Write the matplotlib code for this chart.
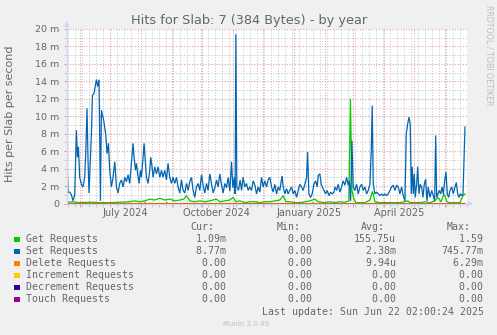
import matplotlib
matplotlib.use('Agg')
import matplotlib.pyplot as plt
import matplotlib.dates as mdates
import matplotlib.transforms as mtransforms
from matplotlib.patches import Rectangle, Polygon
from matplotlib.lines import Line2D
from matplotlib.ticker import MultipleLocator, FuncFormatter, NullFormatter
from datetime import datetime, timedelta

# ---------------- data (values in milli-hits per second, i.e. "m") ----------------
start_date = datetime(2024, 5, 19)
span_days = 400

set_days = [0, 1.3, 3, 4.7, 6.3, 8, 9.7, 10.7, 11.7, 13, 14.7, 16.3, 18, 19, 20.3, 21.3, 22.3,
            24.7, 25.7, 27.3, 29.7, 31, 32.3, 33.7, 34.7, 37, 39, 40.3, 41.7, 43, 44.7, 46.3,
            48, 49.7, 51.3, 53, 54.7, 56.3, 58, 59.7, 61.3, 63, 64.7, 66.3, 67.3, 68.7, 69.7,
            71, 72.3, 73.7, 74.7, 76.3, 77.3, 78.7, 79.7, 81.3, 83, 84, 85.3, 86.3, 88, 89.7,
            91.3, 93, 94.7, 96.3, 98, 99.7, 101.3, 103, 104.7, 106.3, 108, 109.7, 111.3, 113,
            114.7, 116.3, 118, 119.7, 121.3, 123, 124.7, 126.3, 128, 129.7, 131.3, 133, 134.7,
            136.3, 138, 139.7, 141.3, 143, 144.7, 146.3, 148, 149.7, 151.3, 153, 154.7, 156.3,
            158, 159.7, 161.3, 163, 164.7, 166, 167.5, 168.3, 169, 170, 171.7, 173.3, 174.7,
            176.3, 178, 179.7, 181.3, 183, 184.7, 186.3, 188, 189.7, 191.3, 193, 194.7, 196.3,
            198, 199.7, 201.3, 203, 204.7, 206.3, 208, 209.7, 211.3, 213, 214.7, 215.3, 216.3,
            218, 219.7, 221.3, 223, 224.7, 226.3, 228, 229.7, 231.3, 233, 234.7, 236.3, 238,
            239.7, 240.7, 242, 243.7, 245.3, 247, 248.7, 250.3, 251.3, 253, 254.3, 257, 258.7,
            260.3, 262, 263.7, 265.3, 267, 268, 269.7, 271.3, 273, 274.7, 276.3, 278, 279.7,
            281.3, 282.3, 283.7, 285, 286.3, 288, 289.7, 291.3, 293, 294.7, 296.3, 298, 299.7,
            301.3, 303, 304.3, 305.3, 306.3, 308, 309.7, 311.3, 313, 314.7, 316.3, 318, 319.7,
            321.3, 323, 324.7, 326.3, 328, 329.7, 331.3, 333, 334.7, 336.3, 338, 339.3, 340.7,
            342, 343.3, 344.3, 345.3, 346.3, 347.3, 348.3, 349.7, 350.7, 352, 353.3, 354.7,
            356, 357.3, 358.7, 360, 361.3, 363, 364.7, 366.3, 367.7, 368.7, 369.7, 371, 372.3,
            373.7, 375, 376.3, 377.7, 379, 380.3, 381.7, 383, 384.7, 386.3, 388, 389.3, 390.7,
            392, 393.3, 394.7, 396, 397, 398]
set_vals = [5.7, 1.3, 1.3, 1.0, 0.3, 1.0, 8.4, 5.3, 6.5, 3.0, 2.2, 1.9, 3.0, 5.7, 10.9, 5.0, 1.2,
            8.0, 12.4, 12.6, 14.2, 13.4, 14.2, 0.3, 10.7, 9.5, 7.9, 5.7, 6.9, 3.8, 1.9, 3.0,
            4.8, 1.9, 1.2, 2.3, 2.7, 1.9, 3.0, 2.5, 3.3, 2.3, 4.6, 6.9, 5.3, 3.8, 4.6,
            3.3, 2.3, 3.8, 3.0, 5.3, 6.9, 4.6, 3.0, 2.3, 3.8, 5.3, 4.2, 3.0, 4.2, 3.4,
            4.2, 3.0, 3.8, 3.0, 3.8, 2.7, 4.6, 3.0, 2.3, 3.0, 2.3, 3.0, 1.9, 1.2,
            2.7, 1.5, 1.2, 2.3, 1.5, 2.5, 3.0, 1.5, 0.7, 1.9, 2.3, 1.5, 3.3,
            2.1, 1.2, 2.3, 1.5, 3.4, 2.3, 1.2, 1.8, 2.7, 1.9, 3.4, 2.1, 1.2,
            2.3, 1.8, 3.0, 1.4, 4.8, 1.8, 3.0, 1.1, 19.4, 1.9, 1.5, 2.7, 1.5,
            3.0, 1.9, 2.3, 1.5, 1.9, 1.5, 2.6, 2.1, 1.1, 1.9, 1.3, 3.0, 1.9,
            2.6, 1.9, 2.7, 3.0, 1.9, 1.3, 2.2, 1.1, 1.9, 1.5, 2.8, 3.1, 1.9,
            1.1, 1.7, 1.1, 1.5, 1.9, 1.1, 1.5, 0.7, 1.5, 2.2, 1.9, 1.5, 2.2,
            3.0, 5.9, 1.1, 0.7, 1.1, 2.2, 2.6, 1.9, 3.2, 3.4, 2.2, 1.5, 1.1,
            1.5, 0.9, 1.3, 1.1, 1.3, 1.9, 1.5, 2.2, 1.3, 1.9, 2.6, 2.1, 3.0,
            2.1, 2.6, 0.3, 7.2, 1.9, 1.5, 2.2, 1.1, 1.9, 2.2, 1.5, 1.9, 1.1,
            1.5, 2.2, 6.0, 11.2, 2.2, 1.1, 1.3, 1.1, 0.9, 1.1, 0.9, 1.1, 0.9,
            1.1, 1.5, 1.9, 2.1, 1.5, 2.1, 1.9, 1.1, 1.9, 0.9, 0.3, 8.0, 9.1,
            9.9, 9.1, 1.1, 4.2, 1.1, 3.4, 0.7, 2.2, 4.2, 1.1, 2.2, 1.9,
            0.7, 2.2, 2.8, 0.3, 1.9, 0.7, 1.5, 0.9, 0.3, 7.8, 0.7, 1.1, 1.5,
            1.1, 1.9, 1.1, 2.6, 3.6, 1.1, 0.7, 1.5, 1.9, 1.1, 1.9, 2.4, 1.1,
            0.7, 1.1, 0.9, 1.1, 4.9, 8.77]

get_days = [0, 5, 13, 23, 33, 43, 53, 63, 68, 73, 78, 83, 88, 93, 98, 103, 108, 113, 117, 119.7,
            123, 128, 133, 138, 143, 146, 149.7, 153, 158, 163, 166.3, 169, 173, 178, 183, 188,
            193, 198, 203, 208, 213, 216.3, 219, 223, 228, 233, 238, 243, 248, 251, 258, 263,
            268, 273, 278, 282, 283.5, 285, 287, 289, 293, 298, 303, 305.5, 308, 313, 323, 333,
            341, 343, 353, 358, 363, 368, 371, 374, 377, 380, 383, 388, 393, 396, 398]
get_vals = [0.1, 0.2, 0.1, 0.15, 0.1, 0.1, 0.15, 0.2, 0.3, 0.2, 0.3, 0.5, 0.4, 0.6, 0.4, 0.5, 0.3,
            0.4, 0.5, 0.9, 0.3, 0.2, 0.3, 0.2, 0.3, 0.4, 0.5, 0.2, 0.3, 0.4, 0.7, 0.2, 0.3, 0.1,
            0.2, 0.2, 0.1, 0.2, 0.2, 0.3, 0.4, 0.9, 0.2, 0.2, 0.1, 0.1, 0.2, 0.3, 0.5, 0.2, 0.1,
            0.2, 0.1, 0.2, 0.15, 0.3, 12.0, 1.5, 0.5, 0.1, 0.1, 0.1, 0.4, 1.4, 0.2, 0.1, 0.1,
            0.1, 0.3, 0.1, 0.1, 0.2, 0.1, 0.3, 0.7, 0.2, 1.1, 0.2, 0.1, 0.1, 0.1, 0.9, 1.09]

delete_days = [0, 77, 78, 79, 99, 100, 101, 245, 246, 247, 398]
delete_vals = [0, 0, 0.12, 0, 0, 0.15, 0, 0, 0.1, 0, 0]

zero_days = [0, 398]
zero_vals = [0, 0]

series_names = ["Get Requests", "Set Requests", "Delete Requests",
                "Increment Requests", "Decrement Requests", "Touch Requests"]
series_colors = ["#00CC00", "#0066B3", "#FF8000", "#FFCC00", "#330099", "#990099"]
cur_vals = ["1.09m", "8.77m", "0.00 ", "0.00 ", "0.00 ", "0.00 "]
min_vals = ["0.00 ", "0.00 ", "0.00 ", "0.00 ", "0.00 ", "0.00 "]
avg_vals = ["155.75u", "2.38m", "9.94u", "0.00 ", "0.00 ", "0.00 "]
max_vals = ["1.59 ", "745.77m", "6.29m", "0.00 ", "0.00 ", "0.00 "]

x_label_months = [datetime(2024, 7, 1), datetime(2024, 10, 1),
                  datetime(2025, 1, 1), datetime(2025, 4, 1)]

title = "Hits for Slab: 7 (384 Bytes) - by year"
ylabel = "Hits per Slab per second"
last_update = "Last update: Sun Jun 22 02:00:24 2025"
version = "Munin 2.0.49"
side_text = "RRDTOOL / TOBI OETIKER"

# ---------------- figure ----------------
W, H = 497, 335
FONT = '#666666'
AXIS = '#CFD6F8'
fig = plt.figure(figsize=(W / 100, H / 100), dpi=100, facecolor='#F0F0F0')


def fx(px):
    return px / W


def fy(py):
    return 1 - py / H


ax = fig.add_axes([fx(66.7), fy(203.5), (467.0 - 66.7) / W, (203.5 - 29.0) / H])
ax.set_facecolor('white')

t0 = mdates.date2num(start_date)


def to_x(days):
    return [t0 + d for d in days]


ax.plot(to_x(get_days), get_vals, color=series_colors[0], lw=0.9, solid_joinstyle='miter')
ax.plot(to_x(set_days), set_vals, color=series_colors[1], lw=0.9, solid_joinstyle='miter')
ax.plot(to_x(delete_days), delete_vals, color=series_colors[2], lw=0.9)
for c in series_colors[3:]:
    ax.plot(to_x(zero_days), zero_vals, color=c, lw=0.9)

ax.set_xlim(t0, t0 + span_days)
ax.set_ylim(0, 20)

# grids
ax.xaxis.set_major_locator(mdates.MonthLocator())
ax.xaxis.set_minor_locator(mdates.WeekdayLocator(byweekday=mdates.MO))
ax.xaxis.set_major_formatter(NullFormatter())
ax.xaxis.set_minor_formatter(NullFormatter())
ax.yaxis.set_major_locator(MultipleLocator(2))
ax.yaxis.set_minor_locator(MultipleLocator(1))
ax.yaxis.set_major_formatter(FuncFormatter(lambda v, p: "0" if v == 0 else "%d m" % v))

dash = (0, (1, 1.6))
ax.grid(which='major', color='#E49A9A', lw=0.75, linestyle=dash)
ax.grid(which='minor', color='#C8C8C8', lw=0.75, linestyle=dash)
ax.set_axisbelow(True)

ax.tick_params(which='major', length=2.2, width=0.7, color='#E49A9A', labelsize=6.8,
               labelcolor=FONT, pad=3.0)
ax.tick_params(which='minor', length=2.2, width=0.7, color='#C8C8C8')
ax.tick_params(axis='x', which='both', labelbottom=False)

for s in ['top', 'right']:
    ax.spines[s].set_visible(False)
for s in ['left', 'bottom']:
    ax.spines[s].set_color(AXIS)
    ax.spines[s].set_linewidth(0.8)
ax.spines['bottom'].set_zorder(0.5)

# month labels centred mid-month
blend = mtransforms.blended_transform_factory(ax.transData, fig.transFigure)
for m in x_label_months:
    xm = mdates.date2num(m + timedelta(days=15))
    ax.text(xm, fy(212.5), m.strftime("%B %Y"), transform=blend, ha='center', va='center',
            fontsize=7.0, color=FONT)

# axis arrows
fig.add_artist(Line2D([fx(66.7), fx(66.7)], [fy(203.5), fy(24)], color=AXIS, lw=0.8))
fig.add_artist(Polygon([[fx(63.7), fy(27)], [fx(69.7), fy(27)], [fx(66.7), fy(21.5)]],
                       closed=True, color=AXIS, lw=0))
fig.add_artist(Line2D([fx(66.7), fx(470)], [fy(203.5), fy(203.5)], color=AXIS, lw=0.8, zorder=0))
fig.add_artist(Polygon([[fx(467.5), fy(200.5)], [fx(467.5), fy(206.5)], [fx(473.5), fy(203.5)]],
                       closed=True, color=AXIS, lw=0))

# title, labels
fig.text(fx(248.7), fy(24.2), title, ha='center', va='baseline', fontsize=9.3, color=FONT)
fig.text(fx(10.5), fy(114), ylabel, rotation=90, ha='center', va='center', fontsize=8.0,
         color=FONT)
fig.text(fx(488.5), fy(5), side_text, rotation=270, ha='center', va='top', fontsize=5.7,
         color='#BEBEBE')

# legend
mono = dict(family='DejaVu Sans Mono', fontsize=7.1, color=FONT)
cw = 5.95
fig.text(fx(190.7), fy(230.5), "Cur:", va='baseline', ha='left', **mono)
fig.text(fx(276.7), fy(230.5), "Min:", va='baseline', ha='left', **mono)
fig.text(fx(361.0), fy(230.5), "Avg:", va='baseline', ha='left', **mono)
fig.text(fx(446.7), fy(230.5), "Max:", va='baseline', ha='left', **mono)
col_left = [184.1, 270.1, 354.0, 441.0]
for i, name in enumerate(series_names):
    yb = 242.5 + 12 * i
    fig.add_artist(Rectangle((fx(14), fy(yb - 0.3)), 6 / W, 5.6 / H,
                             facecolor=series_colors[i], edgecolor='none'))
    fig.text(fx(26.3), fy(yb), name, va='baseline', ha='left', **mono)
    for cx, vals in zip(col_left, [cur_vals, min_vals, avg_vals, max_vals]):
        fig.text(fx(cx), fy(yb), "%7s" % vals[i].rstrip(), va='baseline', ha='left', **mono)
fig.text(fx(261.7), fy(314.8), last_update, va='baseline', ha='left', **mono)
fig.text(fx(222.7), fy(326.5), version, va='baseline', ha='left', fontsize=5.0,
         color='#BEBEBE')

fig.savefig('out.png', dpi=100, facecolor=fig.get_facecolor())
